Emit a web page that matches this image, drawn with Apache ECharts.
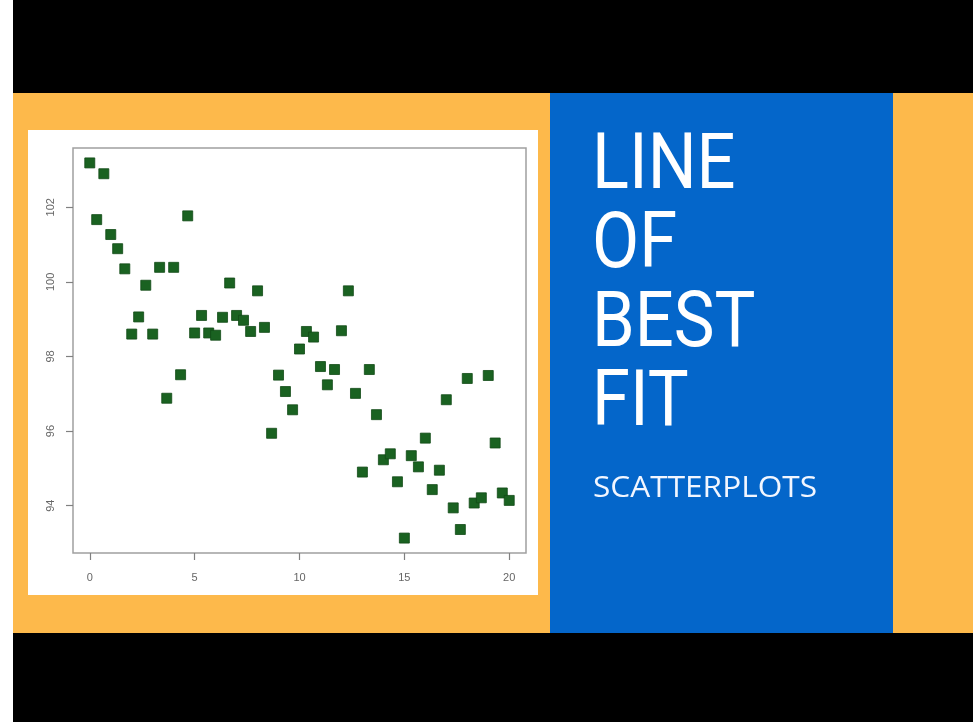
<!DOCTYPE html>
<html>
<head>
<meta charset="utf-8">
<script src="https://cdn.jsdelivr.net/npm/echarts@6/dist/echarts.min.js"></script>
<style>
  html, body { margin: 0; padding: 0; background: #fff; }
  #chart { width: 979px; height: 722px; }
</style>
</head>
<body>
<div id="chart"></div>
<script>
// x positions of the points (thirds from 0 to 20)
const xValues = [
  0, 0.33, 0.67, 1, 1.33, 1.67, 2, 2.33, 2.67, 3, 3.33, 3.67, 4, 4.33, 4.67,
  5, 5.33, 5.67, 6, 6.33, 6.67, 7, 7.33, 7.67, 8, 8.33, 8.67, 9, 9.33, 9.67,
  10, 10.33, 10.67, 11, 11.33, 11.67, 12, 12.33, 12.67, 13, 13.33, 13.67, 14, 14.33, 14.67,
  15, 15.33, 15.67, 16, 16.33, 16.67, 17, 17.33, 17.67, 18, 18.33, 18.67, 19, 19.33, 19.67, 20
];
const yValues = [
  103.19, 101.67, 102.90, 101.27, 100.89, 100.35, 98.60, 99.06, 99.91, 98.60, 100.39, 96.88, 100.39, 97.51, 101.77,
  98.63, 99.10, 98.63, 98.57, 99.05, 99.97, 99.10, 98.97, 98.67, 99.76, 98.78, 95.94, 97.50, 97.06, 96.57,
  98.20, 98.67, 98.52, 97.73, 97.24, 97.65, 98.69, 99.76, 97.01, 94.90, 97.65, 96.44, 95.23, 95.39, 94.64,
  93.13, 95.34, 95.04, 95.81, 94.43, 94.95, 96.84, 93.94, 93.36, 97.41, 94.07, 94.21, 97.49, 95.68, 94.34, 94.14
];
const xTicks = [0, 5, 10, 15, 20];
const yTicks = [94, 96, 98, 100, 102];
const titleLines = ['LINE', 'OF', 'BEST', 'FIT'];
const subtitle = 'SCATTERPLOTS';

const chart = echarts.init(document.getElementById('chart'));

chart.setOption({
  backgroundColor: '#fff',
  animation: false,
  graphic: [
    { type: 'rect', z: -10, shape: { x: 13, y: 0, width: 960, height: 722 }, style: { fill: '#000' } },
    { type: 'rect', z: -9, shape: { x: 13, y: 93, width: 960, height: 540 }, style: { fill: '#fdb94b' } },
    { type: 'rect', z: -8, shape: { x: 28, y: 130, width: 510, height: 465 }, style: { fill: '#fff' } },
    { type: 'rect', z: -8, shape: { x: 550, y: 93, width: 343, height: 540 }, style: { fill: '#0466ca' } },
    {
      type: 'text', z: 10, x: 592, y: 129, scaleX: 0.88,
      style: {
        text: titleLines.join('\n'),
        font: '78px Roboto',
        lineHeight: 79,
        fill: '#fff',
        textVerticalAlign: 'top'
      }
    },
    {
      type: 'text', z: 10, x: 593, y: 474, scaleX: 1.09,
      style: {
        text: subtitle,
        font: '29px "Open Sans"',
        fill: '#f2f6ff',
        textVerticalAlign: 'top'
      }
    }
  ],
  grid: {
    left: 73, top: 148, width: 453, height: 405,
    show: true,
    backgroundColor: '#fff',
    borderColor: '#a0a0a0',
    borderWidth: 1.5
  },
  xAxis: {
    type: 'value',
    min: -0.8,
    max: 20.8,
    splitLine: { show: false },
    axisLine: { show: false, onZero: false },
    axisTick: { show: true, inside: false, length: 7, customValues: xTicks, lineStyle: { color: '#808080', width: 1.2 } },
    axisLabel: {
      customValues: xTicks,
      color: '#666', fontSize: 11, fontFamily: 'Liberation Sans', margin: 19
    }
  },
  yAxis: {
    type: 'value',
    min: 92.73,
    max: 103.59,
    splitLine: { show: false },
    axisLine: { show: false, onZero: false },
    axisTick: { show: true, inside: false, length: 7, customValues: yTicks, lineStyle: { color: '#808080', width: 1.2 } },
    axisLabel: {
      customValues: yTicks,
      rotate: 90,
      color: '#666', fontSize: 11, fontFamily: 'Liberation Sans', margin: 17
    }
  },
  series: [
    {
      type: 'scatter',
      symbol: 'rect',
      symbolSize: 10,
      itemStyle: { color: '#1a6221', borderColor: '#114a16', borderWidth: 0.8, opacity: 1 },
      data: xValues.map((x, i) => [x, yValues[i]])
    }
  ]
});
</script>
</body>
</html>
